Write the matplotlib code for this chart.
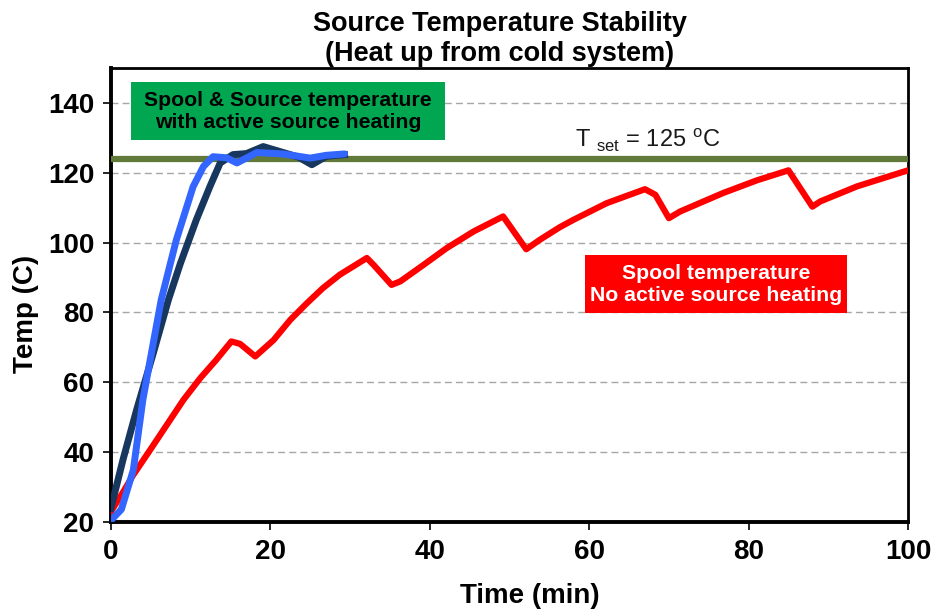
import matplotlib
matplotlib.use("Agg")
import matplotlib.pyplot as plt
from matplotlib.patches import Rectangle

plt.rcParams['font.family'] = ['Liberation Sans', 'DejaVu Sans']
plt.rcParams['mathtext.fontset'] = 'custom'
plt.rcParams['mathtext.rm'] = 'Liberation Sans'

# ---- data ----
red_t = [0, 1.5, 2.8, 4.9, 7.0, 9.1, 11.2, 13.2, 15.1, 16.2, 18.1, 20.4, 22.5, 24.6, 26.6, 28.7,
         32.1, 33.0, 35.2, 36.3, 39.2, 42.1, 45.5, 49.2, 52.1, 53.8, 56.3, 58.0, 62.2,
         67.0, 68.3, 70.0, 71.4, 76.8, 81.0, 85.0, 88.0, 89.0, 93.6, 100]
red_T = [23.0, 28.5, 33.5, 40.6, 47.8, 55.0, 61.2, 66.4, 71.7, 71.0, 67.4, 72.1, 77.9, 82.7, 87.0, 90.8,
         95.6, 93.5, 87.9, 88.9, 93.6, 98.4, 103.2, 107.5, 98.1, 100.8, 104.4, 106.5, 111.3,
         115.3, 113.7, 107.0, 108.9, 114.2, 117.8, 120.7, 110.3, 111.8, 116.1, 120.7]

navy_t = [0, 1.5, 3.2, 5.3, 7.2, 8.7, 10.7, 12.4, 13.7, 15.3, 17.0, 19.1, 21.6, 23.5, 25.2, 27.0, 29.3]
navy_T = [24.0, 37.8, 52.0, 68.3, 83.6, 94.0, 106.5, 116.0, 122.8, 125.2, 125.5, 127.5, 125.8, 124.5, 122.3, 124.7, 125.2]

blue_t = [0, 1.3, 2.8, 4.0, 5.3, 6.3, 8.2, 10.3, 11.6, 12.8, 14.5, 15.8, 18.3, 21.6, 25.0, 27.0, 29.3]
blue_T = [20.5, 23.6, 34.9, 55.0, 71.2, 83.6, 100.8, 116.0, 121.8, 124.6, 124.3, 122.8, 125.8, 125.4, 124.2, 125.0, 125.4]

tset_t = [0, 100]
tset_T = [124, 124]

xticks = [0, 20, 40, 60, 80, 100]
yticks = [20, 40, 60, 80, 100, 120, 140]

# ---- figure ----
fig = plt.figure(figsize=(9.34, 6.11), dpi=100)
ax = fig.add_axes([111/934, 1-522/611, 797/934, 454/611])

for y in yticks[1:]:
    ax.axhline(y, color='#a6a6a6', lw=1.0, ls=(0, (5, 3)), zorder=1)

ax.plot(tset_t, tset_T, color='#617A3A', lw=4.5, zorder=3, solid_capstyle='butt')
ax.plot(red_t, red_T, color='#FF0000', lw=4.5, zorder=4)
ax.plot(navy_t, navy_T, color='#17375E', lw=5, zorder=5)
ax.plot(blue_t, blue_T, color='#3366FF', lw=5, zorder=6, solid_capstyle='round')

ax.set_xlim(0, 100)
ax.set_ylim(20, 150)
ax.set_xticks(xticks)
ax.set_yticks(yticks)
ax.tick_params(axis='both', direction='out', length=6, width=1.2, labelsize=20, pad=6)
for lab in ax.get_xticklabels() + ax.get_yticklabels():
    lab.set_fontweight('bold')

for s in ['left', 'bottom']:
    ax.spines[s].set_linewidth(2.8)
for s in ['top', 'right']:
    ax.spines[s].set_linewidth(2.0)

ax.set_xlabel('Time (min)', fontsize=20, fontweight='bold', labelpad=15)
ax.xaxis.set_label_coords(0.526, -0.135)
ax.set_ylabel('Temp (C)', fontsize=20, fontweight='bold')
ax.yaxis.set_label_coords(-0.090, 0.458)
ax.set_title('Source Temperature Stability\n(Heat up from cold system)',
             fontsize=19.5, fontweight='bold', pad=5, linespacing=1.2, x=0.488)

# annotation boxes
ax.add_patch(Rectangle((0.0251, 0.841), 0.394, 0.128, transform=ax.transAxes,
                       facecolor='#00A650', edgecolor='none', zorder=7))
ax.text(0.222, 0.905, 'Spool & Source temperature\nwith active source heating',
        transform=ax.transAxes, ha='center', va='center', fontsize=15.3,
        fontweight='bold', color='black', zorder=8, linespacing=1.2)

ax.add_patch(Rectangle((0.5947, 0.460), 0.3288, 0.128, transform=ax.transAxes,
                       facecolor='#FF0000', edgecolor='none', zorder=7))
ax.text(0.759, 0.524, 'Spool temperature\nNo active source heating',
        transform=ax.transAxes, ha='center', va='center', fontsize=15.3,
        fontweight='bold', color='white', zorder=8, linespacing=1.2)

ax.text(67.3, 127.2, r'T $_{\rm set}$ = 125 $^{\rm o}$C', fontsize=17, ha='center', va='baseline',
        color='#1a1a1a', zorder=8)

fig.savefig('out.png', dpi=100)
